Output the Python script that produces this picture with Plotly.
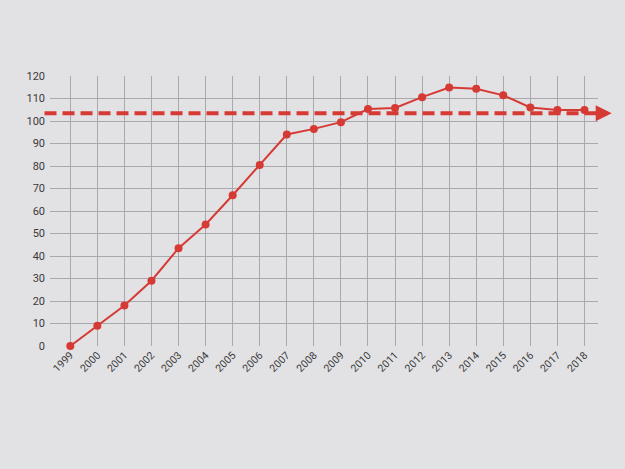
import plotly.graph_objects as go

years = [str(y) for y in range(1999, 2019)]
values = [0, 9, 18, 29, 43.5, 54, 67, 80.5, 94, 96.5, 99.5, 105.3, 105.8, 110.6, 114.9, 114.3, 111.4, 106, 104.9, 104.9]
reference_level = 103.5
y_ticks = list(range(0, 121, 10))

red = "#d63a34"
bg = "#e2e2e5"

fig = go.Figure()
fig.add_trace(go.Scatter(
    x=years, y=values, mode="lines+markers",
    line=dict(color=red, width=2),
    marker=dict(color=red, size=8),
    cliponaxis=False, showlegend=False,
))

# dashed reference line with arrow
fig.add_shape(type="line", xref="paper", yref="y", x0=-0.01, x1=1.005,
              y0=reference_level, y1=reference_level,
              line=dict(color=red, width=4, dash="12px,6px"))
fig.add_annotation(xref="paper", yref="y", x=1.025, y=reference_level,
                   ax=-10, ay=0, axref="pixel", ayref="pixel",
                   showarrow=True, arrowhead=2, arrowsize=0.8, arrowwidth=4,
                   arrowcolor=red, text="")

fig.update_layout(
    width=625, height=469,
    margin=dict(l=50, r=27, t=76, b=123),
    paper_bgcolor=bg, plot_bgcolor=bg,
    font=dict(family="Roboto, Arial, sans-serif", color="#3a3a3a", size=10),
)
fig.update_xaxes(
    type="category", range=[-0.75, 19.5],
    tickangle=-45, showgrid=True, gridcolor="#a9a9ad", gridwidth=1,
    showline=False, zeroline=False, ticks="", tickfont=dict(size=10.5),
)
fig.update_yaxes(
    range=[0, 120], tickvals=y_ticks, showgrid=True, gridcolor="#a9a9ad",
    gridwidth=1, zeroline=False, showline=False, ticks="",
    tickfont=dict(size=11), ticklabelstandoff=4,
)

fig.write_html("out.html", config={"displayModeBar": False},
               post_script="document.body.style.margin='0';")
